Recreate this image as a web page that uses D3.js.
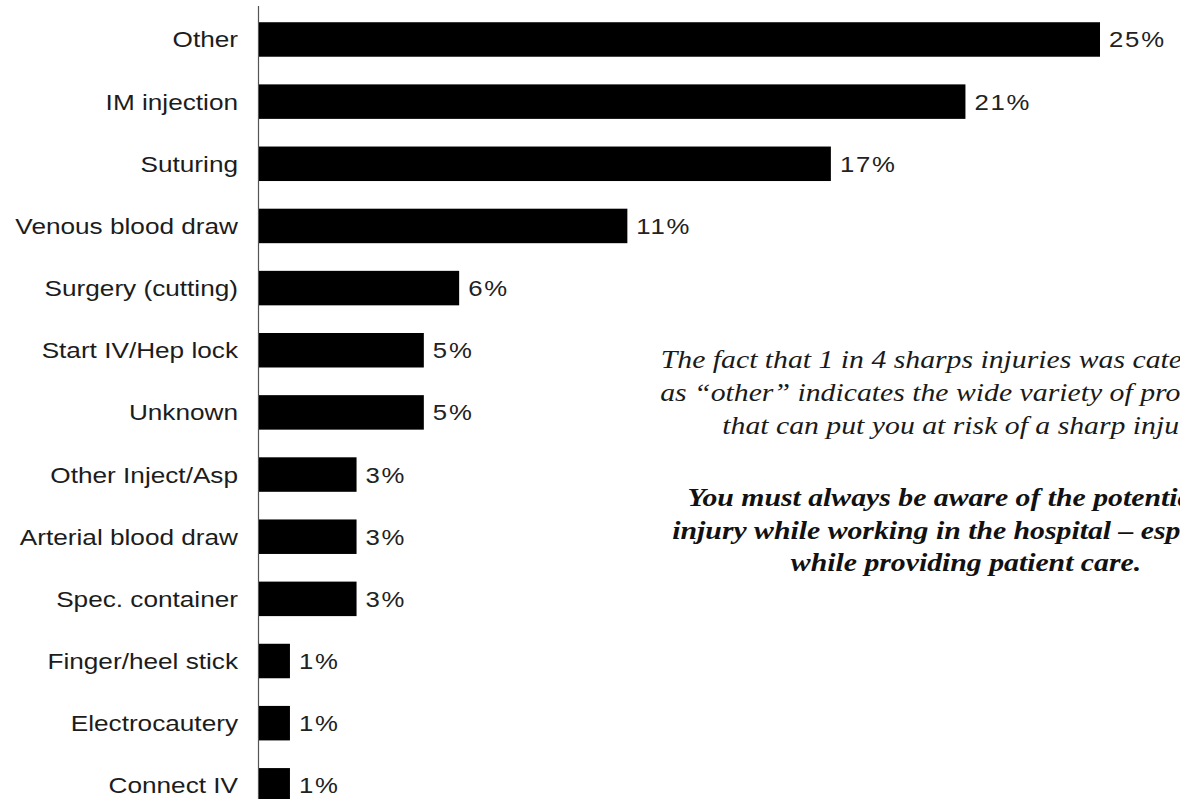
<!DOCTYPE html>
<html>
<head>
<meta charset="utf-8">
<script src="https://cdn.jsdelivr.net/npm/d3@7"></script>
<style>
  body { margin: 0; background: #fff; }
  svg { display: block; }
</style>
</head>
<body>
<script>
var categorias = ["Other", "IM injection", "Suturing", "Venous blood draw", "Surgery (cutting)",
                  "Start IV/Hep lock", "Unknown", "Other Inject/Asp", "Arterial blood draw",
                  "Spec. container", "Finger/heel stick", "Electrocautery", "Connect IV"];
var valores = [25, 21, 17, 10.95, 5.95, 4.9, 4.9, 2.9, 2.9, 2.9, 0.92, 0.92, 0.92];
var rotulos = ["25%", "21%", "17%", "11%", "6%", "5%", "5%", "3%", "3%", "3%", "1%", "1%", "1%"];

var notaItalico = ["The fact that 1 in 4 sharps injuries was categorized",
                   "as \u201cother\u201d indicates the wide variety of procedures",
                   "that can put you at risk of a sharp injury."];
var notaNegrito = ["You must always be aware of the potential for",
                   "injury while working in the hospital \u2013 especially",
                   "while providing patient care."];

var largura = 1180;
var altura = 799;

var svg = d3.select("body")
            .append("svg")
            .attr("width", largura)
            .attr("height", altura);

var x = d3.scaleLinear()
          .domain([0, 25])
          .range([259, 1100]);

var y = d3.scaleBand()
          .domain(categorias)
          .range([8.4, 816.4])
          .paddingInner(0.445)
          .paddingOuter(0.2225);

// eixo vertical
svg.append("line")
   .attr("x1", x(0) - 0.5)
   .attr("x2", x(0) - 0.5)
   .attr("y1", 6)
   .attr("y2", altura)
   .attr("stroke", "#555")
   .attr("stroke-width", 1.2);

svg.selectAll("rect.barra")
   .data(valores)
   .enter()
   .append("rect")
   .attr("class", "barra")
   .attr("x", x(0))
   .attr("y", function(d, i) { return y(categorias[i]); })
   .attr("width", function(d) { return x(d) - x(0); })
   .attr("height", y.bandwidth())
   .attr("fill", "#000");

// o original esta esticado na horizontal, dai o scale nos textos
var estica = 1.19;

svg.selectAll("text.cat")
   .data(categorias)
   .enter()
   .append("text")
   .attr("class", "cat")
   .attr("transform", function(d) {
     return "translate(238," + (y(d) + y.bandwidth() / 2 + 8) + ") scale(" + estica + ",1)";
   })
   .attr("text-anchor", "end")
   .attr("font-family", "Liberation Sans, Arial, sans-serif")
   .attr("font-size", 22)
   .attr("fill", "#1c1c1c")
   .text(function(d) { return d; });

svg.selectAll("text.valor")
   .data(valores)
   .enter()
   .append("text")
   .attr("class", "valor")
   .attr("transform", function(d, i) {
     return "translate(" + (x(d) + 9) + "," + (y(categorias[i]) + y.bandwidth() / 2 + 8) + ") scale(1.17,1)";
   })
   .attr("font-family", "Liberation Sans, Arial, sans-serif")
   .attr("font-size", 22)
   .attr("letter-spacing", 1.5)
   .attr("fill", "#222")
   .text(function(d, i) { return rotulos[i]; });

var centroNota = 966;

svg.selectAll("text.ital")
   .data(notaItalico)
   .enter()
   .append("text")
   .attr("class", "ital")
   .attr("transform", function(d, i) {
     return "translate(" + centroNota + "," + (368 + i * 33) + ") scale(" + estica + ",1)";
   })
   .attr("text-anchor", "middle")
   .attr("font-family", "Liberation Serif, Times New Roman, serif")
   .attr("font-style", "italic")
   .attr("font-size", 25)
   .attr("fill", "#1a1a1a")
   .text(function(d) { return d; });

svg.selectAll("text.negr")
   .data(notaNegrito)
   .enter()
   .append("text")
   .attr("class", "negr")
   .attr("transform", function(d, i) {
     return "translate(" + centroNota + "," + (506 + i * 32.5) + ") scale(" + estica + ",1)";
   })
   .attr("text-anchor", "middle")
   .attr("font-family", "Liberation Serif, Times New Roman, serif")
   .attr("font-style", "italic")
   .attr("font-weight", "bold")
   .attr("font-size", 25)
   .attr("fill", "#111")
   .text(function(d) { return d; });
</script>
</body>
</html>
